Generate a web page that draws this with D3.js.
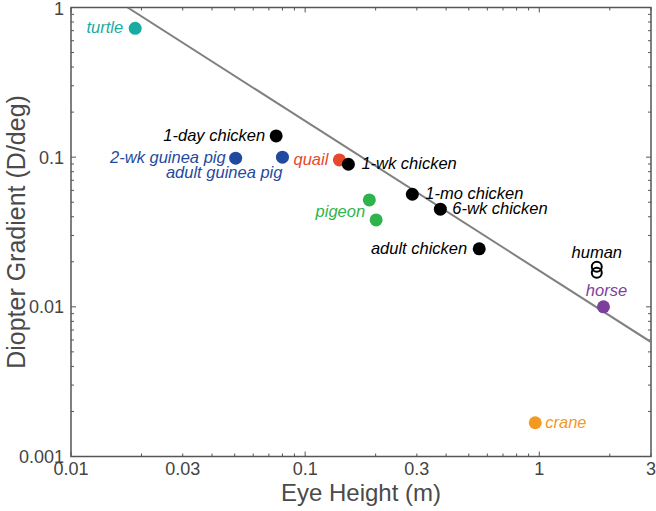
<!DOCTYPE html>
<html><head><meta charset="utf-8">
<script src="https://cdn.jsdelivr.net/npm/d3@7"></script>
<style>
html,body{margin:0;padding:0;background:#fff;}
svg{display:block;}
text{font-family:"Liberation Sans",Arial,Helvetica,sans-serif;}
</style></head>
<body>
<svg id="chart" width="656" height="511"></svg>
<script>
// ---- data ----
const species = ["turtle","1-day chicken","2-wk guinea pig","adult guinea pig","quail","1-wk chicken","1-mo chicken","6-wk chicken","adult chicken","pigeon","pigeon","human","human","horse","crane"];
const eyeHeight = [0.0188,0.0752,0.0505,0.080,0.140,0.153,0.287,0.378,0.554,0.188,0.201,1.76,1.76,1.88,0.961];
const gradient  = [0.726,0.1386,0.0984,0.100,0.0958,0.0897,0.0565,0.0449,0.0244,0.0518,0.0381,0.0185,0.0169,0.0100,0.00168];
const hollow    = [false,false,false,false,false,false,false,false,false,false,false,true,true,false,false];
const speciesColor = {"turtle":"#19aca2","1-day chicken":"#000","2-wk guinea pig":"#1f4a9e","adult guinea pig":"#1f4a9e","quail":"#e8482c","1-wk chicken":"#000","1-mo chicken":"#000","6-wk chicken":"#000","adult chicken":"#000","pigeon":"#2fb34c","human":"#000","horse":"#7d3f9c","crane":"#f5981f"};
const xTicks = [0.01,0.03,0.1,0.3,1,3];
const xTickLabels = ["0.01","0.03","0.1","0.3","1","3"];
const yTicks = [0.001,0.01,0.1,1];
const yTickLabels = ["0.001","0.01","0.1","1"];
const lineX = [0.01745,3];
const lineY = [1,0.005817];

// label placement (point index, offsets, anchor)
const labelPlace = [
  {i:0,dx:-12,dy:5,a:"end"},
  {i:1,dx:-11,dy:5,a:"end"},
  {i:2,dx:-10,dy:5,a:"end"},
  {i:3,dx:0,dy:21,a:"end"},
  {i:4,dx:-11,dy:5,a:"end"},
  {i:5,dx:13,dy:5,a:"start"},
  {i:6,dx:13,dy:5,a:"start"},
  {i:7,dx:12,dy:5,a:"start"},
  {i:8,dx:-12,dy:5,a:"end"},
  {i:10,dx:-11,dy:-3,a:"end"},
  {i:11,dx:0,dy:-9,a:"middle"},
  {i:13,dx:3,dy:-11,a:"middle"},
  {i:14,dx:10,dy:5,a:"start"}
];

const L=71,R=651,T=7.5,B=456.5;
const svg=d3.select("#chart");
const x=d3.scaleLog().domain([0.01,3]).range([L,R]);
const y=d3.scaleLog().domain([0.001,1]).range([B,T]);
const axisCol="#555";

// minor tick values
const xMinor=[],yMinor=[];
[0.01,0.1,1].forEach(d=>{for(let k=1;k<10;k++){const v=d*k;if(v<=3.0001)xMinor.push(v);}});
[0.001,0.01,0.1].forEach(d=>{for(let k=1;k<10;k++)yMinor.push(d*k);});
yMinor.push(1);
const isMajor=v=>Math.abs(Math.log10(v)-Math.round(Math.log10(v)))<1e-6;

const g=svg.append("g");
// frame
g.append("rect").attr("x",L).attr("y",T).attr("width",R-L).attr("height",B-T)
 .attr("fill","none").attr("stroke",axisCol).attr("stroke-width",1.5);
// x ticks bottom and top (inward)
xMinor.forEach(v=>{
  const len=isMajor(v)?5:3;
  g.append("line").attr("x1",x(v)).attr("x2",x(v)).attr("y1",B).attr("y2",B-len).attr("stroke",axisCol).attr("stroke-width",1);
  g.append("line").attr("x1",x(v)).attr("x2",x(v)).attr("y1",T).attr("y2",T+len).attr("stroke",axisCol).attr("stroke-width",1);
});
yMinor.forEach(v=>{
  const len=isMajor(v)?5:3;
  g.append("line").attr("y1",y(v)).attr("y2",y(v)).attr("x1",L).attr("x2",L+len).attr("stroke",axisCol).attr("stroke-width",1);
  g.append("line").attr("y1",y(v)).attr("y2",y(v)).attr("x1",R).attr("x2",R-len).attr("stroke",axisCol).attr("stroke-width",1);
});
// tick labels
g.selectAll(".xtl").data(xTicks).enter().append("text")
 .attr("x",d=>x(d)).attr("y",475).attr("text-anchor","middle")
 .attr("font-size",18).attr("fill","#444").text((d,i)=>xTickLabels[i]);
g.selectAll(".ytl").data(yTicks).enter().append("text")
 .attr("x",64).attr("y",d=>Math.max(y(d)+6.5,15)).attr("text-anchor","end")
 .attr("font-size",18).attr("fill","#444").text((d,i)=>yTickLabels[i]);
// axis titles
g.append("text").attr("x",(L+R)/2).attr("y",501).attr("text-anchor","middle")
 .attr("font-size",24).attr("fill","#4a4a4a").text("Eye Height (m)");
g.append("text").attr("transform",`translate(25,${(T+B)/2}) rotate(-90)`).attr("text-anchor","middle")
 .attr("font-size",25).attr("fill","#4a4a4a").text("Diopter Gradient (D/deg)");

// clip
svg.append("clipPath").attr("id","clip").append("rect").attr("x",L).attr("y",T).attr("width",R-L).attr("height",B-T);
// fit line
svg.append("path").attr("clip-path","url(#clip)")
 .datum(lineX.map((v,i)=>[v,lineY[i]]))
 .attr("d",d3.line().x(d=>x(d[0])).y(d=>y(d[1])))
 .attr("fill","none").attr("stroke","#808080").attr("stroke-width",2);

// points
svg.selectAll(".pt").data(eyeHeight.map((v,i)=>i)).enter().append("circle")
 .attr("cx",i=>x(eyeHeight[i])).attr("cy",i=>y(gradient[i]))
 .attr("r",i=>hollow[i]?5:6.5)
 .attr("fill",i=>hollow[i]?"none":speciesColor[species[i]])
 .attr("stroke",i=>hollow[i]?speciesColor[species[i]]:"none")
 .attr("stroke-width",2);

// labels
svg.selectAll(".lbl").data(labelPlace).enter().append("text")
 .attr("x",d=>x(eyeHeight[d.i])+d.dx).attr("y",d=>y(gradient[d.i])+d.dy)
 .attr("text-anchor",d=>d.a).attr("font-size",16.5).attr("font-style","italic")
 .attr("fill",d=>speciesColor[species[d.i]]).text(d=>species[d.i]);
</script>
</body></html>
